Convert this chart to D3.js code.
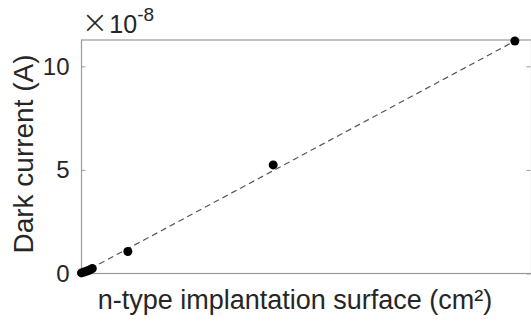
<!DOCTYPE html>
<html>
<head>
<meta charset="UTF-8">
<title>Dark current</title>
<script src="https://cdn.jsdelivr.net/npm/d3@7"></script>
<style>
  body { margin: 0; background: #fff; }
  text { font-family: "Liberation Sans", Arial, sans-serif; fill: #262626; }
</style>
</head>
<body>
<script>
// surface in arbitrary units (no x tick labels on the original)
var surface = [0.0, 0.006, 0.012, 0.018, 0.024, 0.103, 0.426, 0.963];
// dark current, units of 1e-8 A
var current = [0.03, 0.07, 0.12, 0.17, 0.24, 1.06, 5.24, 11.22];
var fitX = [0.0, 0.963];
var fitY = [0.0, 11.22];
var yTicks = [0, 5, 10];

var w = 531, h = 321;
var mLeft = 81.5, mTop = 40, mRight = 531.5, mBottom = 273.5;

var svg = d3.select("body").append("svg")
  .attr("width", w)
  .attr("height", h);

var x = d3.scaleLinear().domain([0, 1]).range([mLeft, mRight]);
var y = d3.scaleLinear().domain([0, 11.27]).range([mBottom, mTop]);

// box
svg.append("rect")
  .attr("x", mLeft).attr("y", mTop)
  .attr("width", mRight - mLeft).attr("height", mBottom - mTop)
  .attr("fill", "none")
  .attr("stroke", "#9a9a9a")
  .attr("stroke-width", 1.2);

// left axis ticks (inward)
var yAxis = d3.axisLeft(y).tickValues(yTicks).tickSize(-4).tickPadding(12);
var gy = svg.append("g").attr("transform", "translate(" + mLeft + ",0)").call(yAxis);
gy.select(".domain").remove();
gy.selectAll(".tick line").attr("stroke", "#9a9a9a");
gy.selectAll(".tick text")
  .style("font-family", "'Liberation Sans', Arial, sans-serif")
  .style("font-size", "24px")
  .attr("fill", "#262626");

// right axis ticks (inward)
var gy2 = svg.append("g").attr("transform", "translate(" + (mRight - 1) + ",0)")
  .call(d3.axisRight(y).tickValues(yTicks).tickSize(-4).tickFormat(""));
gy2.select(".domain").remove();
gy2.selectAll(".tick line").attr("stroke", "#9a9a9a");

// exponent
var ex = svg.append("text").attr("x", mLeft).attr("y", 33)
  .style("font-size", "25px");
ex.append("tspan").style("font-size", "32px").style("font-family", "'DejaVu Sans', sans-serif")
  .style("font-weight", "200").text("\u00d7");
ex.append("tspan").attr("dx", 1).text("10");
ex.append("tspan").attr("dy", -12).style("font-size", "19px").text("-8");

// fit line
var line = d3.line().x(function(d) { return x(d[0]); }).y(function(d) { return y(d[1]); });
svg.append("path")
  .datum(d3.zip(fitX, fitY))
  .attr("d", line)
  .attr("fill", "none")
  .attr("stroke", "#555")
  .attr("stroke-width", 1.2)
  .attr("stroke-dasharray", "6,4");

// points
svg.selectAll("circle")
  .data(d3.zip(surface, current))
  .enter()
  .append("circle")
  .attr("cx", function(d) { return x(d[0]); })
  .attr("cy", function(d) { return y(d[1]); })
  .attr("r", 4.5)
  .attr("fill", "#000");

// axis labels
svg.append("text")
  .attr("x", 295).attr("y", 309)
  .attr("text-anchor", "middle")
  .style("font-size", "27px")
  .text("n-type implantation surface (cm\u00b2)");

svg.append("text")
  .attr("transform", "translate(33,154) rotate(-90)")
  .attr("text-anchor", "middle")
  .style("font-size", "28px")
  .text("Dark current (A)");
</script>
</body>
</html>
